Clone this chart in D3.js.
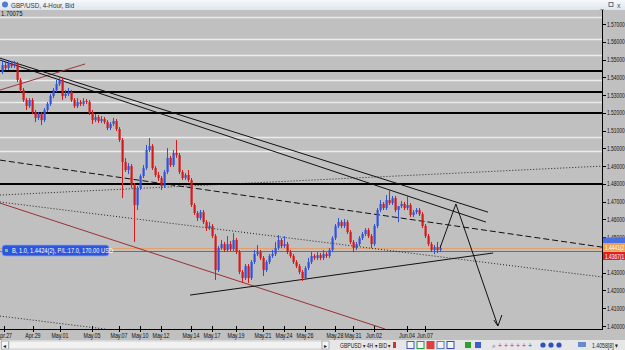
<!DOCTYPE html>
<html>
<head>
<meta charset="utf-8">
<script src="https://cdn.jsdelivr.net/npm/d3@7"></script>
<style>
  body { margin: 0; background: #c0c0c0; overflow: hidden; }
  svg { display: block; font-family: "Liberation Sans", Arial, sans-serif; }
</style>
</head>
<body>
<svg id="chart" width="625" height="350"></svg>
<script>
// GBP/USD 4-hour candles, Apr 27 - Jun 07
const opens = [1.5430,1.5469,1.5452,1.5480,1.5463,1.5475,1.5385,1.5328,1.5272,1.5238,
  1.5272,1.5204,1.5171,1.5193,1.5159,1.5216,1.5250,1.5295,1.5328,1.5362,
  1.5385,1.5295,1.5306,1.5317,1.5272,1.5238,1.5261,1.5250,1.5266,1.5261,
  1.5199,1.5159,1.5176,1.5154,1.5165,1.5148,1.5114,1.5137,1.5154,1.5109,
  1.5047,1.4923,1.4878,1.4900,1.4793,1.4681,1.4777,1.4844,1.4889,1.4991,
  1.5013,1.4889,1.4850,1.4833,1.4788,1.4867,1.4946,1.4906,1.4974,1.4962,
  1.4867,1.4833,1.4850,1.4822,1.4681,1.4636,1.4608,1.4641,1.4585,1.4551,
  1.4563,1.4506,1.4315,1.4439,1.4461,1.4428,1.4461,1.4433,1.4484,1.4416,
  1.4304,1.4270,1.4337,1.4270,1.4360,1.4405,1.4416,1.4383,1.4315,1.4360,
  1.4394,1.4405,1.4439,1.4484,1.4450,1.4461,1.4416,1.4394,1.4360,1.4337,
  1.4304,1.4270,1.4326,1.4360,1.4394,1.4383,1.4399,1.4383,1.4405,1.4394,
  1.4428,1.4495,1.4563,1.4585,1.4563,1.4585,1.4529,1.4473,1.4439,1.4461,
  1.4495,1.4518,1.4540,1.4506,1.4461,1.4563,1.4653,1.4687,1.4664,1.4709,
  1.4692,1.4720,1.4653,1.4675,1.4687,1.4664,1.4681,1.4625,1.4641,1.4653,
  1.4630,1.4563,1.4506,1.4461,1.4428,1.4444,1.4428];
const highs = [1.5497,1.5486,1.5497,1.5492,1.5492,1.5486,1.5396,1.5340,1.5283,1.5283,
  1.5283,1.5216,1.5204,1.5204,1.5227,1.5261,1.5306,1.5340,1.5385,1.5402,
  1.5396,1.5328,1.5340,1.5328,1.5283,1.5283,1.5272,1.5283,1.5278,1.5272,
  1.5216,1.5193,1.5188,1.5182,1.5176,1.5159,1.5148,1.5171,1.5165,1.5120,
  1.5058,1.4946,1.4917,1.4912,1.4805,1.4788,1.4855,1.4906,1.5019,1.5058,
  1.5024,1.4900,1.4867,1.4844,1.4878,1.5002,1.4957,1.4991,1.5047,1.4974,
  1.4878,1.4861,1.4878,1.4833,1.4692,1.4647,1.4653,1.4653,1.4596,1.4585,
  1.4574,1.4518,1.4450,1.4484,1.4473,1.4506,1.4478,1.4523,1.4495,1.4428,
  1.4315,1.4349,1.4349,1.4371,1.4428,1.4456,1.4428,1.4394,1.4371,1.4405,
  1.4428,1.4473,1.4512,1.4495,1.4506,1.4473,1.4428,1.4405,1.4371,1.4349,
  1.4315,1.4337,1.4383,1.4416,1.4405,1.4416,1.4411,1.4428,1.4416,1.4439,
  1.4506,1.4574,1.4608,1.4596,1.4602,1.4596,1.4540,1.4484,1.4473,1.4506,
  1.4529,1.4551,1.4551,1.4518,1.4574,1.4664,1.4709,1.4698,1.4737,1.4765,
  1.4732,1.4732,1.4664,1.4703,1.4698,1.4732,1.4692,1.4653,1.4664,1.4664,
  1.4641,1.4574,1.4518,1.4473,1.4456,1.4473,1.4456];
const lows = [1.5418,1.5441,1.5441,1.5452,1.5452,1.5373,1.5317,1.5261,1.5216,1.5227,
  1.5193,1.5148,1.5159,1.5131,1.5148,1.5204,1.5238,1.5283,1.5317,1.5351,
  1.5272,1.5283,1.5295,1.5261,1.5227,1.5227,1.5238,1.5238,1.5250,1.5188,
  1.5137,1.5148,1.5143,1.5143,1.5137,1.5103,1.5103,1.5126,1.5098,1.5036,
  1.4720,1.4867,1.4855,1.4777,1.4473,1.4653,1.4765,1.4833,1.4878,1.4979,
  1.4878,1.4839,1.4816,1.4765,1.4777,1.4855,1.4895,1.4895,1.4946,1.4855,
  1.4822,1.4822,1.4810,1.4670,1.4625,1.4591,1.4596,1.4574,1.4535,1.4540,
  1.4495,1.4259,1.4304,1.4428,1.4416,1.4416,1.4422,1.4422,1.4405,1.4292,
  1.4242,1.4259,1.4242,1.4259,1.4349,1.4394,1.4371,1.4281,1.4304,1.4349,
  1.4383,1.4394,1.4428,1.4439,1.4439,1.4405,1.4383,1.4349,1.4326,1.4292,
  1.4253,1.4259,1.4315,1.4349,1.4371,1.4371,1.4371,1.4371,1.4383,1.4383,
  1.4416,1.4484,1.4551,1.4551,1.4551,1.4518,1.4461,1.4416,1.4428,1.4450,
  1.4484,1.4506,1.4495,1.4439,1.4450,1.4551,1.4641,1.4653,1.4653,1.4681,
  1.4681,1.4641,1.4585,1.4664,1.4653,1.4653,1.4613,1.4613,1.4630,1.4619,
  1.4551,1.4495,1.4450,1.4416,1.4405,1.4411,1.4416];
const closes = [1.5469,1.5452,1.5480,1.5463,1.5475,1.5385,1.5328,1.5272,1.5238,1.5272,
  1.5204,1.5171,1.5193,1.5159,1.5216,1.5250,1.5295,1.5328,1.5362,1.5385,
  1.5295,1.5306,1.5317,1.5272,1.5238,1.5261,1.5250,1.5266,1.5261,1.5199,
  1.5159,1.5176,1.5154,1.5165,1.5148,1.5114,1.5137,1.5154,1.5109,1.5047,
  1.4923,1.4878,1.4900,1.4793,1.4681,1.4777,1.4844,1.4889,1.4991,1.5013,
  1.4889,1.4850,1.4833,1.4788,1.4867,1.4946,1.4906,1.4974,1.4962,1.4867,
  1.4833,1.4850,1.4822,1.4681,1.4636,1.4608,1.4641,1.4585,1.4551,1.4563,
  1.4506,1.4315,1.4439,1.4461,1.4428,1.4461,1.4433,1.4484,1.4416,1.4304,
  1.4270,1.4337,1.4270,1.4360,1.4405,1.4416,1.4383,1.4315,1.4360,1.4394,
  1.4405,1.4439,1.4484,1.4450,1.4461,1.4416,1.4394,1.4360,1.4337,1.4304,
  1.4270,1.4326,1.4360,1.4394,1.4383,1.4399,1.4383,1.4405,1.4394,1.4428,
  1.4495,1.4563,1.4585,1.4563,1.4585,1.4529,1.4473,1.4439,1.4461,1.4495,
  1.4518,1.4540,1.4506,1.4461,1.4563,1.4653,1.4687,1.4664,1.4709,1.4692,
  1.4720,1.4653,1.4675,1.4687,1.4664,1.4681,1.4625,1.4641,1.4653,1.4630,
  1.4563,1.4506,1.4461,1.4428,1.4444,1.4428,1.4439];

// price axis ticks (1.4400 is hidden under the price labels)
const priceTicks = [1.57,1.56,1.55,1.54,1.53,1.52,1.51,1.50,1.49,1.48,1.47,1.46,1.45,1.43,1.42,1.41,1.40];
// time axis labels and the candle index they sit on
const dateLabels = ["Apr.27","Apr.29","May.01","May.05","May.07","May.10","May.12","May.14","May.17",
  "May.19","May.21","May.24","May.26","May.28","May.31","Jun.02","Jun.04","Jun.07"];
const dateIndex = [0.8,10.3,19.3,30,39,46,53,63,70,78,87,94,101,111,117,124,135,141];

// horizontal objects on the chart
const whiteLevels = [1.5740,1.5615,1.5525,1.5385,1.5260,1.5065,1.4985];
const blackLevels = [1.5435,1.5317,1.5199,1.4800];
const askLevel = 1.4441;
const orderLevel = 1.4424;

// trend lines as [candle index, price] pairs
const channelUpper = [[-0.7,1.5508],[162,1.4641]];
const channelLower = [[-0.7,1.5497],[161.3,1.4585]];
const redShort = [[-0.7,1.5328],[27.7,1.5475]];
const redLong = [[-0.7,1.4692],[127.7,1.3983]];
const dashedLine = [[-0.7,1.4934],[200,1.4444]];
const dottedUpper = [[-0.7,1.4737],[200,1.4900]];
const dottedLower = [[-0.7,1.4698],[200,1.4276]];
const dottedBottom = [[-0.7,1.4056],[34.3,1.3983]];
const supportLine = [[62.7,1.4174],[163.7,1.4411]];
const forecast = [[146,1.4439],[151.3,1.4687],[165.3,1.4000]];

const svg = d3.select("#chart");
const W = 625, H = 350;
const plotRight = 602, plotTop = 10, plotBottom = 329;

const x = d3.scaleLinear().domain([0, 146]).range([2, 440]);
const y = d3.scaleLinear().domain([1.40, 1.57]).range([326, 24]);

// small narrow text, like the terminal's font
function ntext(parent, tx, ty, str, size, sx, anchor, fill) {
  return parent.append("text")
    .attr("transform", `translate(${tx},${ty}) scale(${sx},1)`)
    .attr("font-size", size).attr("text-anchor", anchor || "start")
    .attr("fill", fill || "#111").text(str);
}

svg.append("rect").attr("width", W).attr("height", H).attr("fill", "#c0c0c0");

const defs = svg.append("defs");
defs.append("clipPath").attr("id", "plot")
  .append("rect").attr("x", 0).attr("y", plotTop).attr("width", plotRight).attr("height", plotBottom - plotTop);

const g = svg.append("g").attr("clip-path", "url(#plot)");

// horizontal levels
g.selectAll(".white").data(whiteLevels).enter().append("line")
  .attr("x1", 0).attr("x2", plotRight)
  .attr("y1", d => Math.round(y(d)) + 0.5).attr("y2", d => Math.round(y(d)) + 0.5)
  .attr("stroke", "#ececec").attr("stroke-width", 1.5);

g.selectAll(".black").data(blackLevels).enter().append("line")
  .attr("x1", 0).attr("x2", plotRight)
  .attr("y1", d => Math.round(y(d))).attr("y2", d => Math.round(y(d)))
  .attr("stroke", "#000").attr("stroke-width", 2);

g.append("line").attr("x1", 0).attr("x2", plotRight)
  .attr("y1", Math.round(y(askLevel)) + 0.5).attr("y2", Math.round(y(askLevel)) + 0.5)
  .attr("stroke", "#e0a070").attr("stroke-width", 1.2);
g.append("line").attr("x1", 0).attr("x2", plotRight)
  .attr("y1", Math.round(y(orderLevel)) + 0.5).attr("y2", Math.round(y(orderLevel)) + 0.5)
  .attr("stroke", "#6e6e6e").attr("stroke-width", 1);

const line = d3.line().x(d => x(d[0])).y(d => y(d[1]));

function drawLine(pts, color, width, dash) {
  g.append("path").attr("d", line(pts)).attr("fill", "none")
    .attr("stroke", color).attr("stroke-width", width)
    .attr("stroke-dasharray", dash || null);
}

drawLine(redShort, "#9a3a3a", 1);
drawLine(redLong, "#9a3030", 1);
drawLine(dottedUpper, "#222", 1, "1,2");
drawLine(dottedLower, "#222", 1, "1,2");
drawLine(dottedBottom, "#222", 1, "1,2");
drawLine(dashedLine, "#111", 1, "6,3");
drawLine(channelUpper, "#111", 1);
drawLine(channelLower, "#111", 1);
drawLine(supportLine, "#111", 1);

// candles
const idx = d3.range(closes.length);
const bull = "#3153dc", bear = "#d41a1a";
const col = i => closes[i] >= opens[i] ? bull : bear;

g.selectAll(".wick").data(idx).enter().append("line")
  .attr("x1", i => Math.round(x(i)) + 0.5).attr("x2", i => Math.round(x(i)) + 0.5)
  .attr("y1", i => y(highs[i])).attr("y2", i => y(lows[i]))
  .attr("stroke", col).attr("stroke-width", 1);

g.selectAll(".body").data(idx).enter().append("rect")
  .attr("x", i => Math.round(x(i)) - 0.5)
  .attr("width", 2.2)
  .attr("y", i => y(Math.max(opens[i], closes[i])))
  .attr("height", i => Math.max(1, Math.abs(y(opens[i]) - y(closes[i]))))
  .attr("fill", col);

// forecast arrow
drawLine(forecast, "#111", 1);
const tip = forecast[forecast.length - 1];
const tx = x(tip[0]), ty = y(tip[1]);
g.append("path").attr("d", `M${tx - 4},${ty - 6}L${tx},${ty}L${tx + 4},${ty - 11}`)
  .attr("fill", "none").attr("stroke", "#111").attr("stroke-width", 1);

// order label
const ol = svg.append("g").attr("transform", `translate(2,${Math.round(y(orderLevel)) - 6})`);
ol.append("rect").attr("width", 107).attr("height", 11).attr("rx", 3)
  .attr("fill", "#2c55dc").attr("stroke", "#8aa4f0").attr("stroke-width", 0.8);
ol.append("rect").attr("x", 3).attr("y", 4).attr("width", 3).attr("height", 3).attr("fill", "#5fd35f");
ntext(ol, 10, 8.2, "B, 1.0, 1.4424(2), P/L:17.0, 170.00 USD", 6.8, 0.84, "start", "#fff");

// axes
svg.append("line").attr("x1", plotRight + 0.5).attr("x2", plotRight + 0.5)
  .attr("y1", plotTop).attr("y2", plotBottom).attr("stroke", "#000");
svg.append("line").attr("x1", 0).attr("x2", plotRight + 1)
  .attr("y1", plotBottom + 0.5).attr("y2", plotBottom + 0.5).attr("stroke", "#000");

const yt = svg.append("g");
yt.selectAll("line").data(priceTicks).enter().append("line")
  .attr("x1", plotRight).attr("x2", plotRight + 4)
  .attr("y1", d => Math.round(y(d)) + 0.5).attr("y2", d => Math.round(y(d)) + 0.5)
  .attr("stroke", "#000");
priceTicks.forEach(d => ntext(yt, plotRight + 5, y(d) + 2.5, d.toFixed(4) + "0", 7, 0.7));

const xt = svg.append("g");
xt.selectAll("line").data(dateIndex).enter().append("line")
  .attr("x1", d => Math.round(x(d)) + 0.5).attr("x2", d => Math.round(x(d)) + 0.5)
  .attr("y1", plotBottom - 3).attr("y2", plotBottom + 3)
  .attr("stroke", "#000");
dateLabels.forEach((d, i) => ntext(xt, x(dateIndex[i]), plotBottom + 9, d, 7, 0.76, "middle"));

// price markers on the right axis (the blue one sits mostly under the orange)
svg.append("rect").attr("x", plotRight + 1).attr("y", 237.5).attr("width", 24).attr("height", 6)
  .attr("fill", "#4a6fe0");
const markers = [
  { cy: 247, text: "1.4441(2", fill: "#f0a050" },
  { cy: 256, text: "1.4367(1", fill: "#e02020" }
];
markers.forEach(m => {
  svg.append("rect").attr("x", plotRight + 1).attr("y", m.cy - 4).attr("width", 24).attr("height", 8)
    .attr("fill", m.fill);
  ntext(svg, plotRight + 3, m.cy + 2.5, m.text, 7, 0.7, "start", "#fff");
});

// title bar
const tb = svg.append("g");
const grad = defs.append("linearGradient").attr("id", "tg")
  .attr("x1", 0).attr("x2", 0).attr("y1", 0).attr("y2", 1);
grad.append("stop").attr("offset", 0).attr("stop-color", "#f6f8fc");
grad.append("stop").attr("offset", 1).attr("stop-color", "#dfe5ee");
tb.append("rect").attr("width", W).attr("height", plotTop).attr("fill", "url(#tg)");
tb.append("circle").attr("cx", 5).attr("cy", 4.5).attr("r", 3).attr("fill", "#4a7fd0");
ntext(tb, 11, 7.5, "GBP/USD, 4-Hour, Bid", 7, 0.9, "start", "#333");
ntext(tb, 600, 7.5, "_", 7, 1, "start", "#555");
tb.append("rect").attr("x", 609).attr("y", 2.5).attr("width", 4).attr("height", 4)
  .attr("fill", "none").attr("stroke", "#555").attr("stroke-width", 0.8);
ntext(tb, 617, 7.5, "x", 7, 1, "start", "#555");

ntext(svg, 1, 16, "1.70075", 7, 0.85);

// bottom toolbar
const bar = svg.append("g").attr("transform", "translate(0,340)");
bar.append("rect").attr("width", W).attr("height", 10).attr("fill", "#e6e6e6");
bar.append("rect").attr("x", 9).attr("y", 1).attr("width", 313).attr("height", 8).attr("fill", "#f2f2f2")
  .attr("stroke", "#b8b8b8").attr("stroke-width", 0.6);
[[1.5, "\u25C2"], [322, "\u25B8"]].forEach(([bx, ch]) => {
  bar.append("rect").attr("x", bx).attr("y", 1).attr("width", 7).attr("height", 8)
    .attr("fill", "#f4f4f4").attr("stroke", "#8a8a8a").attr("stroke-width", 0.6);
  ntext(bar, bx + 1.5, 7.5, ch, 6, 1);
});
ntext(bar, 340, 7.5, "GBPUSD \u25BE 4H \u25BE BID \u25BE", 6.5, 0.78, "start", "#222");
bar.append("rect").attr("x", 393).attr("y", 2).attr("width", 3).attr("height", 6).attr("fill", "#d03030");
const icons = ["#4060c0", "#20a040", "#e04040", "#5080d0", "#3050b0"];
icons.forEach((c, k) => {
  bar.append("rect").attr("x", 407 + k * 10).attr("y", 1.5).attr("width", 7).attr("height", 7)
    .attr("fill", k === 2 ? c : "#f4f4f4").attr("stroke", c).attr("stroke-width", 1);
});
["#30a030", "#4060c0"].forEach((c, k) => {
  bar.append("rect").attr("x", 465 + k * 10).attr("y", 2).attr("width", 6).attr("height", 6).attr("fill", c);
});
d3.range(7).forEach(k => {
  ntext(bar, 492 + k * 6, 8, k === 0 ? "\u2315" : "+", 7, 1, "start",
    k === 0 || k === 6 ? "#3050b0" : "#d03030");
});
d3.range(3).forEach(k => {
  bar.append("circle").attr("cx", 543 + k * 8).attr("cy", 5).attr("r", 2.6).attr("fill", "#3050c0");
});
bar.append("rect").attr("x", 578).attr("y", 2).attr("width", 8).attr("height", 5).attr("fill", "#6a8ad0");
ntext(bar, 592, 7.5, "1.4058[8] \u25BE", 6.5, 0.8, "start", "#222");
</script>
</body>
</html>
